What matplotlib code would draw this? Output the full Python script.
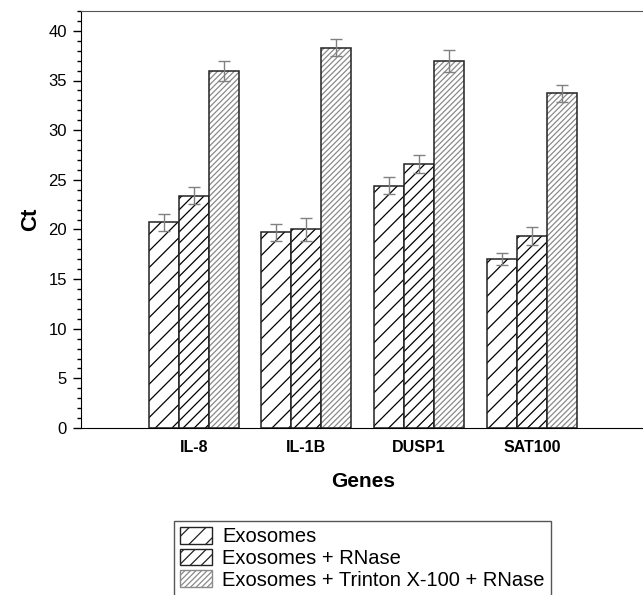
import numpy as np
from matplotlib import pyplot as plt
from matplotlib.patches import Patch
from matplotlib.ticker import MultipleLocator

plt.rcParams['font.family'] = ['Liberation Sans', 'DejaVu Sans']
plt.rcParams['hatch.linewidth'] = 0.9

genes = ['IL-8', 'IL-1B', 'DUSP1', 'SAT100']
series = ['Exosomes', 'Exosomes + RNase', 'Exosomes + Trinton X-100 + RNase']
exo = [20.7, 19.7, 24.4, 17.0]
exo_rnase = [23.4, 20.0, 26.6, 19.3]
exo_triton = [36.0, 38.3, 37.0, 33.7]
err_exo = [0.88, 0.87, 0.84, 0.6]
err_rnase = [0.88, 1.17, 0.9, 0.9]
err_triton = [1.0, 0.87, 1.1, 0.84]

fig = plt.figure(figsize=(6.43, 5.95), dpi=100)
ax = fig.add_axes([81/643, 1-428/595, 563.5/643, 417/595])

x = np.arange(1, len(genes)+1)
w = 0.266
vals = [exo, exo_rnase, exo_triton]
errs = [err_exo, err_rnase, err_triton]
hatches = ['//', '///', '//////']
hcolors = ['black', 'black', '#8a8a8a']
handles = []
for k in range(3):
    xs = x + (k-1)*w
    ax.bar(xs, vals[k], w, color='white', edgecolor=hcolors[k], hatch=hatches[k],
           linewidth=0)
    ax.bar(xs, vals[k], w, fill=False, edgecolor='#222222', linewidth=1.1)
    ax.errorbar(xs, vals[k], yerr=errs[k], fmt='none', ecolor='#808080',
                elinewidth=1, capsize=4, capthick=1)
    # legend proxy
    handles.append(Patch(facecolor='white', edgecolor=hcolors[k] if k == 2 else '#222222',
                         hatch=hatches[k], linewidth=1, label=series[k]))

ax.set_xlim(0, 5)
ax.set_ylim(0, 42)
ax.set_xticks(x)
ax.set_xticklabels(genes, fontsize=11.5, fontweight='bold')
ax.tick_params(axis='x', length=0, pad=9)
ax.yaxis.set_major_locator(MultipleLocator(5))
ax.yaxis.set_minor_locator(MultipleLocator(1))
ax.tick_params(axis='y', which='major', length=6, width=1, labelsize=12, pad=4)
ax.tick_params(axis='y', which='minor', length=3, width=1)
ax.spines['right'].set_visible(False)
ax.spines['top'].set_color('#555555')
ax.set_ylabel('Ct', fontsize=16, fontweight='bold', labelpad=5)
ax.set_xlabel('Genes', fontsize=15, fontweight='bold', labelpad=12)

fig.legend(handles=handles, loc='upper left', bbox_to_anchor=(174/643, 1-521/595),
           fontsize=14.5, frameon=True, fancybox=False, edgecolor='#555555',
           framealpha=1, handlelength=1.6, handleheight=0.9, handletextpad=0.5,
           labelspacing=0.12, borderpad=0.3, borderaxespad=0)

fig.savefig('out.png', dpi=100)
